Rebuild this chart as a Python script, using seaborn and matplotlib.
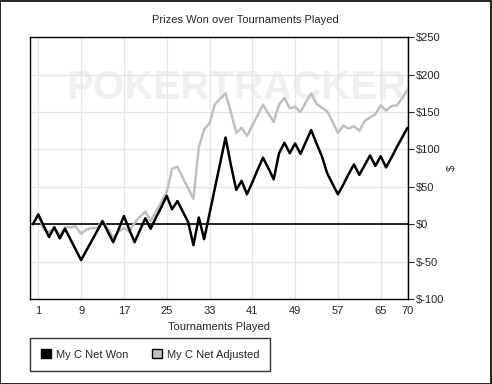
import numpy as np
import pandas as pd
import matplotlib
matplotlib.use("Agg")
import matplotlib.pyplot as plt
from matplotlib.patches import Patch, Rectangle
import seaborn as sns

tournaments = list(range(0, 71))
net_won = [0, 13, -2, -17, -4, -19, -6, -20, -34, -48,
           -35, -22, -9, 4, -10, -24, -7, 11, -7, -24,
           -8, 8, -6, 9, 23, 38, 20, 31, 17, 3,
           -28, 9, -20, 14, 48, 82, 116, 79, 46, 58,
           40, 56, 73, 89, 75, 60, 95, 109, 95, 108,
           94, 110, 126, 108, 91, 68, 54, 40, 53, 67,
           80, 66, 79, 92, 78, 91, 76, 89, 103, 116, 129]
net_adjusted = [0, 13, -7, -10, -6, -14, -4, -4, -3, -13,
                -7, -5, -5, 5, -6, -18, -10, -5, -10, 2,
                10, 17, 4, 17, 30, 43, 74, 77, 62, 48,
                34, 103, 127, 135, 160, 168, 175, 150, 122, 129,
                118, 132, 146, 160, 148, 137, 160, 169, 155, 157,
                150, 163, 175, 161, 156, 151, 137, 122, 132, 128,
                131, 125, 138, 143, 147, 159, 152, 158, 159, 168, 180]
series_names = ["My C Net Won", "My C Net Adjusted"]
x_ticks = [1, 9, 17, 25, 33, 41, 49, 57, 65, 70]
y_ticks = [-100, -50, 0, 50, 100, 150, 200, 250]
y_tick_labels = ["$" + str(v) for v in y_ticks]

df = pd.DataFrame({
    "t": tournaments * 2,
    "v": net_won + net_adjusted,
    "s": [series_names[0]] * len(tournaments) + [series_names[1]] * len(tournaments),
})

sns.set_style("white")
plt.rcParams["font.family"] = ["Liberation Sans", "DejaVu Sans"]
plt.rcParams["font.size"] = 8

fig = plt.figure(figsize=(4.92, 3.84), dpi=100)
ax = fig.add_axes([30 / 492, 1 - 299 / 384, 378 / 492, (299 - 37.3) / 384])

ax.set_xlim(-0.55, 70.1)
ax.set_ylim(-100, 250)
ax.set_xticks(x_ticks)
ax.set_yticks(y_ticks)
ax.grid(True, color="#e6e6e6", linewidth=0.9)
ax.set_axisbelow(True)

# watermark
ax.text(0.545, 0.805, "POKERTRACKER", transform=ax.transAxes, ha="center", va="center",
        fontsize=29, fontweight="bold", color="#f0f0f0", zorder=0.5)

ax.axhline(0, color="black", linewidth=1.2, zorder=1)

sns.lineplot(data=df, x="t", y="v", hue="s", hue_order=series_names[::-1],
             palette={series_names[0]: "black", series_names[1]: "#c0c0c0"},
             linewidth=1.8, legend=False, ax=ax, zorder=2)

ax.yaxis.tick_right()
ax.set_yticklabels(y_tick_labels)
ax.tick_params(axis="y", which="both", right=True, left=False, length=4, width=0.8,
               direction="out", pad=2, labelsize=8)
ax.tick_params(axis="x", length=0, pad=5, labelsize=8)
ax.set_xlabel("Tournaments Played", fontsize=8, labelpad=4)
ax.set_ylabel("$", fontsize=8)
ax.yaxis.set_label_coords((457 - 30) / 378, 0.5)

for sp in ax.spines.values():
    sp.set_visible(True)
    sp.set_color("black")
    sp.set_linewidth(1.0)

fig.text(245 / 492, 1 - 20 / 384, "Prizes Won over Tournaments Played",
         ha="center", va="center", fontsize=8)

handles = [Patch(facecolor="black", edgecolor="black", label=series_names[0]),
           Patch(facecolor="#c0c0c0", edgecolor="black", label=series_names[1])]
leg = fig.legend(handles=handles, loc="upper left", bbox_to_anchor=(30 / 492, 1 - 338 / 384),
                 ncol=2, frameon=True, fancybox=False, fontsize=8, handlelength=0.9,
                 handleheight=0.9, handletextpad=0.4, columnspacing=2.2,
                 borderpad=1.0, borderaxespad=0)
leg.get_frame().set_edgecolor("black")
leg.get_frame().set_linewidth(1.0)

fig.patches.append(Rectangle((0.001, 0.001), 0.997, 0.997, transform=fig.transFigure,
                             fill=False, edgecolor="black", linewidth=1.2))

fig.savefig("out.png", dpi=100)
